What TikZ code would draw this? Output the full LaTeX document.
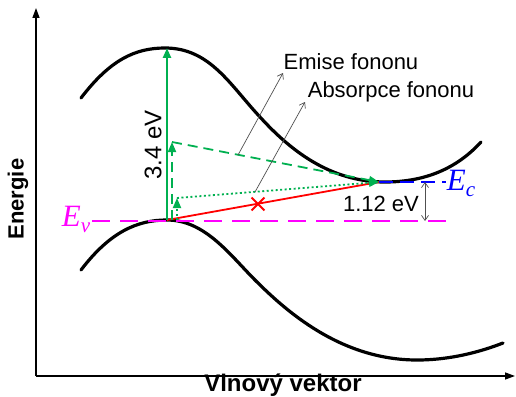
\documentclass[tikz,border=0pt]{standalone}
\usepackage{fontspec}
\setmainfont{Liberation Sans}
\newfontfamily\serifit{Liberation Serif}
\usetikzlibrary{arrows.meta,shapes.misc}
\definecolor{grn}{RGB}{0,176,80}
\definecolor{mag}{RGB}{255,0,255}
\definecolor{blu}{RGB}{0,0,255}
\definecolor{ptr}{RGB}{80,80,80}
\tikzset{
  axisline/.style={line width=1.3pt,-{Triangle[length=10pt,width=7pt]}},
  band/.style={line width=3.2pt,line cap=round},
  gtip/.style={-{Triangle[length=10pt,width=8pt]}},
  gsolid/.style={grn,line width=2.4pt,gtip},
  gdash/.style={grn,line width=1.8pt,dash pattern=on 10pt off 6pt,gtip},
  gdot/.style={grn,line width=1.8pt,dash pattern=on 2pt off 2.5pt,gtip},
  lbl/.style={font=\fontsize{22}{24}\selectfont,inner sep=0pt},
  pointer/.style={ptr,line width=0.7pt,-{Straight Barb[length=5pt,width=7pt]}},
  levelE/.style={font=\serifit\itshape\fontsize{31}{33}\selectfont,inner sep=0pt}
}
\begin{document}
\begin{tikzpicture}[x=1pt,y=-1pt]
\useasboundingbox (0,0) rectangle (516,396);
% axes
\coordinate (O) at (36,376);
\coordinate (ytop) at (36,8);
\coordinate (xend) at (515,376);
\draw[axisline] (O) -- (ytop);
\draw[axisline] (O) -- (xend);
\node[font=\bfseries\fontsize{22}{24}\selectfont,rotate=90,inner sep=0pt] (en) at (18,199) {Energie};
\node[font=\bfseries\fontsize{24}{26}\selectfont,inner sep=0pt] (vv) at (283,385) {Vlnový vektor};
% bands
\draw[band] (81,98) .. controls (110,60) and (135,48) .. (165,48)
  .. controls (210,48) and (230,85) .. (260,117)
  .. controls (290,150) and (330,182) .. (385,182)
  .. controls (430,182) and (460,165) .. (481,142);
\draw[band] (81,270) .. controls (110,232) and (137,220) .. (167,220)
  .. controls (205,220) and (230,255) .. (255,280)
  .. controls (285,310) and (340,360) .. (417,360)
  .. controls (450,360) and (480,352) .. (503,343);
% key points
\coordinate (vbm) at (167,220);
\coordinate (cbm) at (379,182);
\coordinate (top) at (167,48);
\coordinate (d1) at (172,220);
\coordinate (d2) at (172,142);
\coordinate (p1) at (177,220);
\coordinate (p2) at (177,198);
% levels
\coordinate (evs) at (92,221);
\coordinate (eve) at (447,221);
\draw[mag,line width=1.8pt,dash pattern=on 18pt off 10pt] (evs) -- (eve);
\node[levelE,text=mag] (ev) at (76,219) {E\raisebox{-6pt}{\fontsize{21}{21}\selectfont v}};
\coordinate (ece) at (446,182);
\draw[blu,line width=1.8pt,dash pattern=on 14pt off 7pt] (cbm) -- (ece);
\node[levelE,text=blu] (ec) at (461,183) {E\raisebox{-6pt}{\fontsize{21}{21}\selectfont c}};
% gap arrow
\coordinate (g1) at (425,182);
\coordinate (g2) at (425,221);
\draw[ptr,line width=0.7pt,{Straight Barb[length=5pt,width=7pt]}-{Straight Barb[length=5pt,width=7pt]}] (g1) -- (g2);
\node[lbl] (gap) at (381,204) {1.12 eV};
% red transition
\draw[red,line width=1.8pt] (vbm) -- (cbm);
\node[draw=red,cross out,line width=1.8pt,minimum size=11pt,inner sep=0pt] (xx) at (258,204) {};
% green transitions
\draw[gsolid] (vbm) -- (top);
\node[lbl,rotate=90,font=\fontsize{24}{26}\selectfont] (e34) at (153,145) {3.4 eV};
\draw[gdash] (d1) -- (d2);
\draw[gdash] (d2) -- (cbm);
\draw[gdot] (p1) -- (p2);
\draw[gdot] (p2) -- (cbm);
% pointers
\coordinate (pe) at (238,155);
\coordinate (pet) at (283,73);
\coordinate (pa) at (255,192);
\coordinate (pat) at (305,102);
\draw[pointer] (pe) -- (pet);
\draw[pointer] (pa) -- (pat);
\node[lbl] (emise) at (351,62) {Emise fononu};
\node[lbl] (abs) at (391,92) {Absorpce fononu};
\end{tikzpicture}
\end{document}
